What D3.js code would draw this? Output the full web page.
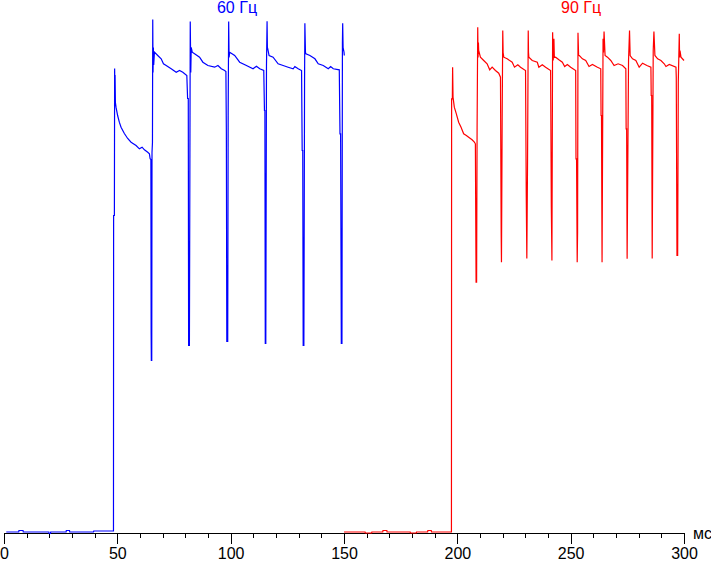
<!DOCTYPE html>
<html><head><meta charset="utf-8">
<script src="https://cdn.jsdelivr.net/npm/d3@7"></script>
<style>html,body{margin:0;padding:0;background:#fff;} svg{display:block}</style>
</head><body>
<svg id="chart" width="711" height="561"></svg>
<script>
// time (ms), brightness (relative units)
const blue60 = [[1.0,0.1],[6.5,0.1],[6.6,0.4],[8.4,0.4],[8.5,0.1],[19.8,0.1],[19.9,-0.2],[20.5,-0.2],[20.6,0.1],[27.4,0.1],[27.5,0.4],[28.9,0.4],[29.0,0.1],[39.5,0.1],[39.6,0.3],[47.9,0.3],
[48.3,0.3],[48.36,63.4],[48.7,63.4],[48.81,92.8],[48.9,88.8],[49.0,91.5],[49.15,86],[49.42,85.06],[50.13,83.4],[50.88,82.06],[51.64,81.06],[53.1,79.8],[54.56,78.8],[56.06,78.06],[58.27,77.4],[59.73,76.74],[60.93,77.06],[61.95,76.54],[63.41,76.06],[64.16,75.74],[64.47,74.74],[64.8,74.6],[64.91,40],[65.0,34.4],[65.18,34.4],[65.3,76],[65.5,78],[65.62,102.6],[65.75,92],[65.9,97],[66.05,93.5],[66.37,96.06],[67.83,95.4],[69.34,94.74],[70.35,93.74],[71.55,93.4],[73.76,92.74],[75.97,92.06],[77.43,92.4],[78.89,92.06],[80.66,91.4],[81.0,86.8],[81.3,86.8],[81.45,37.4],[81.8,37.4],[82.0,72],[82.17,102.2],[82.4,92],[82.6,97],[83.05,96.06],[84.07,95.74],[86.28,95.06],[87.74,94.06],[89.96,93.4],[92.92,93.06],[94.38,93.4],[95.88,92.74],[97.35,92.4],[97.9,92.2],[98.1,80],[98.3,38.2],[98.7,38.2],[98.9,84],[99.12,102.2],[99.3,95],[99.56,96.06],[101.77,95.4],[103.98,94.06],[106.95,93.4],[109.87,92.74],[111.37,93.26],[112.83,92.74],[114.6,92.4],[114.91,84.4],[115.1,84.4],[115.27,37.8],[115.5,37.8],[115.8,93.4],[116.06,102.26],[116.2,97],[116.37,96.74],[116.95,95.4],[118.72,95.06],[120.93,93.74],[123.14,93.4],[125.35,93.06],[127.57,92.74],[128.32,93.2],[129.78,92.74],[131.28,92.4],[131.55,76.4],[131.8,76.4],[131.99,37.4],[132.3,37.4],[132.6,90.06],[132.74,101.86],[133.0,96],[133.19,95.74],[134.96,95.4],[137.17,94.74],[138.63,93.74],[140.84,93.4],[143.05,92.74],[144.11,93.2],[145.27,92.74],[147.92,92.54],[148.23,79.74],[148.5,79.74],[148.81,37.8],[149.1,37.8],[149.3,97.8],[149.42,101.86],[149.6,97],[150.0,96.06],[150.13,95.4]];

const red90 = [[150.0,0.1],[159.3,0.1],[159.4,-0.1],[162.2,-0.1],[162.3,0.1],[167.1,0.1],[167.2,0.4],[168.9,0.4],[169.0,0.1],[179.2,0.1],[179.3,-0.1],[181.9,-0.1],[182.0,0.1],[186.9,0.1],[187.0,0.4],[188.5,0.4],[188.6,0.1],[197.4,0.1],
[197.48,86.74],[197.8,86.74],[197.92,93.06],[198.1,87.06],[198.67,85.06],[199.56,83.74],[200.58,82.06],[201.64,81.06],[202.79,79.74],[203.98,79.4],[205.0,79.06],[206.5,78.54],[207.52,78.06],[207.96,77.74],[208.27,50.06],[208.5,50.06],[208.72,81.06],[209.0,101.06],[209.15,95],[209.3,98],[209.42,96.4],[210.18,95.06],[211.64,94.4],[213.14,93.74],[214.29,92.54],[215.35,93.06],[216.81,92.4],[218.27,91.86],[219.03,91.06],[219.34,59.8],[219.47,54.06],[219.78,83.06],[220.04,100.4],[220.2,96],[220.49,95.06],[221.99,94.74],[224.2,94.06],[225.22,93.06],[226.68,93.54],[227.88,93.06],[230.09,92.4],[230.4,67.8],[230.66,54.8],[230.97,73.8],[231.28,100.4],[231.4,96],[231.55,95.06],[233.05,94.4],[235.27,94.06],[235.97,93.06],[237.48,93.54],[238.94,93.06],[241.15,92.4],[241.46,65.4],[241.73,54.4],[242.04,100.06],[242.3,94.4],[242.61,98.74],[242.8,95],[243.36,95.06],[244.82,94.54],[246.33,94.06],[247.35,93.2],[248.54,93.6],[250.0,93.06],[252.21,92.4],[252.35,74.74],[252.6,74.74],[252.88,54.06],[253.05,60],[253.23,99.94],[253.5,95.4],[253.85,95.4],[255.18,94.74],[256.64,94.4],[258.1,93.2],[259.6,93.6],[261.81,93.06],[263.27,92.74],[263.41,83.4],[263.6,83.4],[263.85,54.06],[264.29,98.74],[264.5,96],[264.73,100.2],[265.18,95.4],[266.24,95.06],[267.7,94.4],[269.16,93.4],[270.93,93.74],[272.88,93.4],[274.34,92.74],[274.47,80.74],[274.7,80.74],[274.91,54.74],[275.53,94.4],[275.97,100.4],[276.24,95.4],[277.3,94.74],[278.76,94.4],[280.22,93.06],[281.73,93.86],[283.63,93.4],[285.4,93.06],[285.53,87.4],[285.75,87.4],[285.97,54.8],[286.42,96.4],[286.73,100.2],[287.17,95.4],[288.36,94.74],[289.82,94.4],[291.28,93.74],[292.04,93.2],[293.5,93.6],[296.46,93.06],[296.59,91.06],[296.9,55.4],[297.2,55.4],[297.48,90.06],[297.92,99.74],[298.05,95],[298.23,96.4],[298.67,95.06],[300.0,94.4]];

const seriesNames = ["60 Гц", "90 Гц"];
const majorTicks = [0, 50, 100, 150, 200, 250, 300];
const minorTicks = [10, 20, 30, 40, 60, 70, 80, 90, 110, 120, 130, 140, 160, 170, 180, 190, 210, 220, 230, 240, 260, 270, 280, 290];
const unitLabel = "мс";

const svg = d3.select("#chart");
const FONT = "'Liberation Sans', Arial, sans-serif";
const x = d3.scaleLinear().domain([0, 300]).range([4, 684]);
const y = d3.scaleLinear().domain([0, 100]).range([532.5, 32.5]);

// axis
const axisG = svg.append("g").attr("transform", "translate(0,533)");
axisG.call(d3.axisBottom(x).tickValues(majorTicks).tickSize(11).tickSizeOuter(0).tickFormat(d3.format("d")));
axisG.selectAll("path,line").attr("stroke", "#000").attr("shape-rendering", "crispEdges");
axisG.selectAll("text").attr("y", 26).attr("dy", 0).attr("fill", "#000")
  .style("font-family", FONT).style("font-size", "16px");
const minorG = svg.append("g").attr("transform", "translate(0,533)");
minorG.call(d3.axisBottom(x).tickValues(minorTicks).tickSize(5).tickFormat(""));
minorG.select(".domain").remove();
minorG.selectAll("line").attr("stroke", "#000").attr("shape-rendering", "crispEdges");

svg.append("text").attr("x", 693).attr("y", 539).text(unitLabel)
  .style("font-family", FONT).style("font-size", "16px").attr("fill", "#000");

const line = d3.line().x(d => x(d[0])).y(d => y(d[1]));
svg.append("path").datum(blue60).attr("d", line).attr("fill", "none")
  .attr("stroke", "#0000ff").attr("stroke-width", 1.2);
svg.append("path").datum(red90).attr("d", line).attr("fill", "none")
  .attr("stroke", "#ff0000").attr("stroke-width", 1.2);

svg.append("text").attr("x", x(102.8)).attr("y", 13).attr("text-anchor", "middle")
  .text(seriesNames[0]).attr("fill", "#0000ff").style("font-family", FONT).style("font-size", "16px");
svg.append("text").attr("x", x(254.6)).attr("y", 13).attr("text-anchor", "middle")
  .text(seriesNames[1]).attr("fill", "#ff0000").style("font-family", FONT).style("font-size", "16px");
</script>
</body></html>
